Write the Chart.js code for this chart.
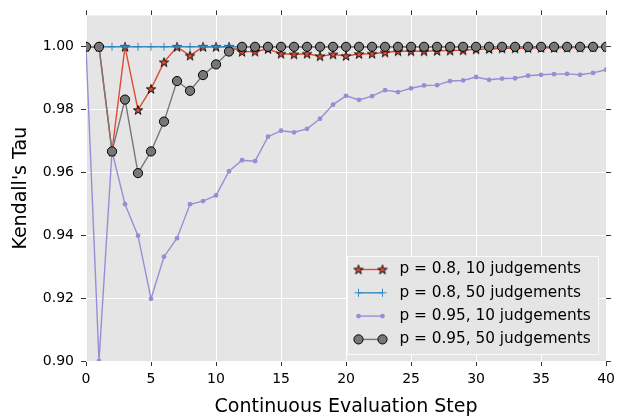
<!DOCTYPE html>
<html><head><meta charset="utf-8">
<script src="https://cdn.jsdelivr.net/npm/chart.js@4"></script>
<style>html,body{margin:0;padding:0;background:#fff}</style>
</head><body>
<canvas id="c" width="620" height="417" style="display:block;width:620px;height:417px"></canvas>
<script>
// ---- data ----
const steps = [0,1,2,3,4,5,6,7,8,9,10,11,12,13,14,15,16,17,18,19,20,21,22,23,24,25,26,27,28,29,30,31,32,33,34,35,36,37,38,39,40];
const seriesLabels = ["p = 0.8, 10 judgements","p = 0.8, 50 judgements","p = 0.95, 10 judgements","p = 0.95, 50 judgements"];
const p08_10 = [1.0,1.0,0.9667,1.0,0.9799,0.9866,0.9951,1.0,0.9972,1.0,1.0,1.0,0.9984,0.9985,0.9993,0.9978,0.9976,0.9978,0.9970,0.9976,0.9971,0.9977,0.9978,0.9982,0.9986,0.9986,0.9986,0.9987,0.9988,0.9989,0.9992,0.9993,0.9995,0.9995,0.9996,0.9997,0.9997,0.9998,0.9998,0.9999,0.9999];
const p08_50 = [1.0,1.0,1.0,1.0,1.0,1.0,1.0,1.0,1.0,1.0,1.0,1.0,1.0,1.0,1.0,1.0,1.0,1.0,1.0,1.0,1.0,1.0,1.0,1.0,1.0,1.0,1.0,1.0,1.0,1.0,1.0,1.0,1.0,1.0,1.0,1.0,1.0,1.0,1.0,1.0,1.0];
const p095_10 = [1.0,0.90,0.9667,0.9499,0.9399,0.9198,0.9332,0.9391,0.9499,0.9509,0.9527,0.9604,0.9639,0.9636,0.9714,0.9733,0.9728,0.9739,0.9771,0.9816,0.9844,0.9831,0.9843,0.9862,0.9856,0.9868,0.9877,0.9878,0.9891,0.9893,0.9904,0.9895,0.9899,0.9900,0.9908,0.9911,0.9913,0.9914,0.9911,0.9917,0.9927];
const p095_50 = [1.0,1.0,0.9667,0.9832,0.9598,0.9667,0.9762,0.9891,0.9860,0.9910,0.9944,0.9985,1.0,1.0,1.0,1.0,1.0,1.0,1.0,1.0,1.0,1.0,1.0,1.0,1.0,1.0,1.0,1.0,1.0,1.0,1.0,1.0,1.0,1.0,1.0,1.0,1.0,1.0,1.0,1.0,1.0];
const xTicks = [0,5,10,15,20,25,30,35,40];
const yTicks = [0.90,0.92,0.94,0.96,0.98,1.00];

const FONT = 'DejaVu Sans';
const pts = arr => arr.map((v,i) => ({x: steps[i], y: v}));

function starCanvas(){
  const s = 14, c = document.createElement('canvas');
  c.width = s; c.height = s;
  const g = c.getContext('2d');
  const R = 4.9, r = R * 0.382;
  g.beginPath();
  for (let i = 0; i < 10; i++) {
    const a = -Math.PI/2 + i*Math.PI/5, rr = i % 2 ? r : R;
    g.lineTo(s/2 + rr*Math.cos(a), s/2 + 0.4 + rr*Math.sin(a));
  }
  g.closePath();
  g.fillStyle = '#E24A33'; g.fill();
  g.lineWidth = 0.9; g.strokeStyle = '#000'; g.stroke();
  return c;
}
const STAR = starCanvas();

const bgPlugin = {
  id: 'bg',
  beforeDraw(chart){
    const {ctx, chartArea: a} = chart;
    ctx.save(); ctx.fillStyle = '#E5E5E5';
    ctx.fillRect(a.left, a.top, a.right - a.left, a.bottom - a.top);
    ctx.restore();
  }
};

const legendPlugin = {
  id: 'mplLegend',
  afterDraw(chart){
    const ctx = chart.ctx;
    const L = {x: 347.5, y: 256.5, w: 251, h: 98, rows: [269.5, 292.8, 316.1, 339.4], m1: 358.5, m2: 382.5, tx: 399.5};
    ctx.save();
    ctx.fillStyle = '#E5E5E5';
    ctx.fillRect(L.x, L.y, L.w, L.h);
    ctx.strokeStyle = '#FAFAFA'; ctx.lineWidth = 1;
    ctx.strokeRect(L.x, L.y, L.w, L.h);
    chart.data.datasets.forEach((ds, i) => {
      const y = L.rows[i];
      ctx.strokeStyle = ds.borderColor; ctx.lineWidth = ds.borderWidth;
      ctx.beginPath(); ctx.moveTo(L.m1, y); ctx.lineTo(L.m2, y); ctx.stroke();
      [L.m1, L.m2].forEach(mx => {
        ctx.fillStyle = ds.pointBackgroundColor;
        ctx.strokeStyle = ds.pointBorderColor;
        ctx.lineWidth = ds.pointBorderWidth;
        Chart.helpers.drawPoint(ctx, {pointStyle: ds.pointStyle, radius: ds.pointRadius, borderWidth: ds.pointBorderWidth, rotation: 0}, mx, y);
      });
      ctx.fillStyle = '#000';
      ctx.font = '15.3px "' + FONT + '"';
      ctx.textBaseline = 'middle'; ctx.textAlign = 'left';
      ctx.fillText(ds.label, L.tx, y);
    });
    ctx.restore();
  }
};

const gridCommon = {color: '#FFFFFF', lineWidth: 1, tickColor: '#333', tickLength: 5, tickWidth: 1, drawTicks: true};

new Chart(document.getElementById('c'), {
  type: 'line',
  data: {
    datasets: [
      {label: seriesLabels[0], data: pts(p08_10), borderColor: '#E24A33', borderWidth: 1.4,
       pointStyle: STAR, pointRadius: 5, pointBackgroundColor: '#E24A33', pointBorderColor: '#000', pointBorderWidth: 1, order: 3, clip: 0, tension: 0},
      {label: seriesLabels[1], data: pts(p08_50), borderColor: '#348ABD', borderWidth: 1.4,
       pointStyle: 'cross', pointRadius: 4, pointBackgroundColor: '#348ABD', pointBorderColor: '#348ABD', pointBorderWidth: 1, order: 2, clip: 0, tension: 0},
      {label: seriesLabels[2], data: pts(p095_10), borderColor: '#988ED5', borderWidth: 1.4,
       pointStyle: 'circle', pointRadius: 2.4, pointBackgroundColor: '#988ED5', pointBorderColor: '#988ED5', pointBorderWidth: 0, order: 1, clip: 0, tension: 0},
      {label: seriesLabels[3], data: pts(p095_50), borderColor: '#777777', borderWidth: 1.4,
       pointStyle: 'circle', pointRadius: 4.6, pointBackgroundColor: '#777777', pointBorderColor: '#000', pointBorderWidth: 1, order: 0, clip: 0, tension: 0}
    ]
  },
  options: {
    responsive: false, animation: false, devicePixelRatio: 1, events: [],
    layout: {padding: 0},
    plugins: {legend: {display: false}, tooltip: {enabled: false}},
    scales: {
      x: {type: 'linear', position: 'bottom', min: 0, max: 40,
          afterBuildTicks: s => { s.ticks = xTicks.map(v => ({value: v})); },
          afterFit: s => { s.height = 56; },
          grid: gridCommon, border: {display: false},
          ticks: {font: {family: FONT, size: 14}, color: '#000', padding: 5, maxRotation: 0, autoSkip: false},
          title: {display: true, text: 'Continuous Evaluation Step', color: '#000', font: {family: FONT, size: 19, lineHeight: 1}, padding: {top: 0, bottom: 0.5}}},
      x2: {type: 'linear', position: 'top', min: 0, max: 40,
          afterBuildTicks: s => { s.ticks = xTicks.map(v => ({value: v})); },
          afterFit: s => { s.height = 15; },
          grid: Object.assign({}, gridCommon, {drawOnChartArea: false}), border: {display: false},
          ticks: {display: false}},
      y: {type: 'linear', position: 'left', min: 0.90, max: 1.01,
          afterBuildTicks: s => { s.ticks = yTicks.map(v => ({value: v})); },
          afterFit: s => { s.width = 86; },
          grid: gridCommon, border: {display: false},
          ticks: {font: {family: FONT, size: 14}, color: '#000', padding: 7, callback: v => Number(v).toFixed(2)},
          title: {display: true, text: "Kendall's Tau", color: '#000', font: {family: FONT, size: 19, lineHeight: 1}, padding: {top: 12, bottom: 0}}},
      y2: {type: 'linear', position: 'right', min: 0.90, max: 1.01,
          afterBuildTicks: s => { s.ticks = yTicks.map(v => ({value: v})); },
          afterFit: s => { s.width = 13; },
          grid: Object.assign({}, gridCommon, {drawOnChartArea: false}), border: {display: false},
          ticks: {display: false}}
    }
  },
  plugins: [bgPlugin, legendPlugin]
});
</script>
</body></html>
